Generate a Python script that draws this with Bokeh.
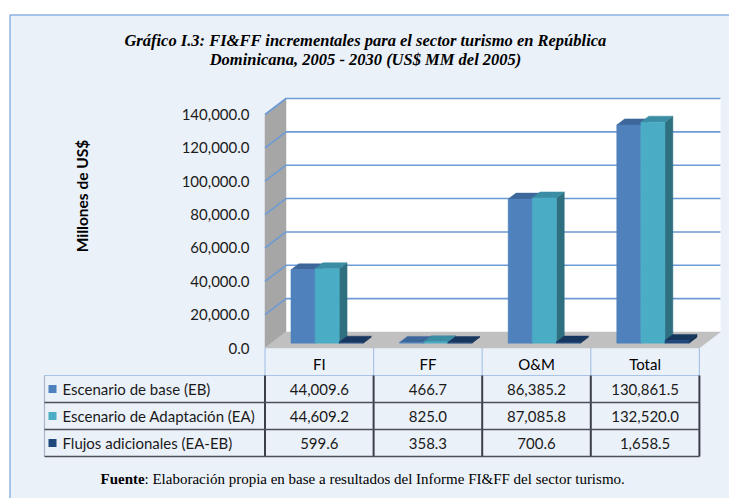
from math import pi
from bokeh.plotting import figure
from bokeh.models import Range1d
from bokeh.core.properties import value
from bokeh.embed import file_html
from bokeh.resources import INLINE

# ---------------- data ----------------
categories = ["FI", "FF", "O&M", "Total"]
eb = [44009.6, 466.7, 86385.2, 130861.5]
ea = [44609.2, 825.0, 87085.8, 132520.0]
flujos = [599.6, 358.3, 700.6, 1658.5]
series_names = ["Escenario de base (EB)", "Escenario de Adaptación (EA)", "Flujos adicionales (EA-EB)"]
y_ticks = [0, 20000, 40000, 60000, 80000, 100000, 120000, 140000]
y_tick_labels = ["0.0", "20,000.0", "40,000.0", "60,000.0", "80,000.0", "100,000.0", "120,000.0", "140,000.0"]
title_lines = ["Gráfico I.3: FI&FF incrementales para el sector turismo en República",
               "Dominicana, 2005 - 2030 (US$ MM del 2005)"]
y_label = "Millones de US$"
note_bold = "Fuente"
note_rest = ": Elaboración propia en base a resultados del Informe FI&FF del sector turismo."

# ---------------- styles / layout ----------------
front_cols = ["#4F81BD", "#4BACC6", "#1F497D"]
top_cols = ["#3D679B", "#3A8DA3", "#18375F"]
side_cols = ["#365E8E", "#2E6F80", "#132E50"]
BG = "#EBF1F9"
GRID = "#6C9BD6"
FONT = value("Lato")
SERIF = value("Liberation Serif")

W, H = 729, 498
X0, Y0 = 0, 0                      # canvas origin in page pixels
FX0, CW = 264.5, 108.6             # front plane left x, category width (px)
FY0, VMAX = 347.5, 140000.0
K = 233.5 / VMAX                   # px per unit value
DX, DY = 21.0, 16.0                # full depth offset (px)

p = figure(width=W, height=H, x_range=Range1d(X0, X0 + W), y_range=Range1d(Y0 + H, Y0),
           output_backend="svg", toolbar_location=None, min_border=0,
           x_axis_location=None, y_axis_location=None)
p.grid.visible = False
p.outline_line_color = None
p.background_fill_color = "white"
p.border_fill_color = "white"

p.extra_x_ranges = {"cat": Range1d((X0 - FX0) / CW, (X0 + W - FX0) / CW)}
p.extra_y_ranges = {"val": Range1d((FY0 - (Y0 + H)) / K, (FY0 - Y0) / K)}


def P(c, v, t):
    return c + t * DX / CW, v + t * DY / K


def poly(pts):
    return [q[0] for q in pts], [q[1] for q in pts]


# panel
p.quad(left=9.5, right=800, top=14.5, bottom=600, fill_color=BG, line_color="#8DB3E2", line_width=1.5)

# walls and floor
ncat = len(categories)
wall_xs, wall_ys, wall_c = [], [], []
for pts, col in [
    ([P(0, 0, 1), P(ncat, 0, 1), P(ncat, VMAX, 1), P(0, VMAX, 1)], "white"),
    ([P(0, 0, 0), P(0, VMAX, 0), P(0, VMAX, 1), P(0, 0, 1)], "#A6A6A6"),
    ([P(0, 0, 0), P(ncat, 0, 0), P(ncat, 0, 1), P(0, 0, 1)], "#C0C0C0"),
]:
    xs, ys = poly(pts)
    wall_xs.append(xs); wall_ys.append(ys); wall_c.append(col)
p.patches(wall_xs, wall_ys, fill_color=wall_c, line_color=wall_c, line_width=0.5,
          x_range_name="cat", y_range_name="val")

# gridlines
gxs, gys = [], []
for v in y_ticks[1:]:
    xs, ys = poly([P(0, v, 0), P(0, v, 1), P(ncat, v, 1)])
    gxs.append(xs); gys.append(ys)
p.multi_line(gxs, gys, line_color=GRID, line_width=1.6, x_range_name="cat", y_range_name="val")

# bars
T0, T1 = 0.3, 0.675
OFF, BW = 0.181, 0.222
bxs, bys, bc = [], [], []
for i in range(ncat):
    for j, vals in enumerate([eb, ea, flujos]):
        v = vals[i]
        c0 = i + OFF + j * BW
        c1 = c0 + BW
        faces = [
            ([P(c1, 0, T0), P(c1, 0, T1), P(c1, v, T1), P(c1, v, T0)], side_cols[j]),
            ([P(c0, v, T0), P(c1, v, T0), P(c1, v, T1), P(c0, v, T1)], top_cols[j]),
            ([P(c0, 0, T0), P(c1, 0, T0), P(c1, v, T0), P(c0, v, T0)], front_cols[j]),
        ]
        for pts, col in faces:
            xs, ys = poly(pts)
            bxs.append(xs); bys.append(ys); bc.append(col)
p.patches(bxs, bys, fill_color=bc, line_color=bc, line_width=0.5,
          x_range_name="cat", y_range_name="val")

# y tick labels
p.text(x=[249] * len(y_ticks), y=y_ticks, text=y_tick_labels, y_range_name="val",
       text_align="right", text_baseline="middle", text_font=FONT,
       text_font_size="15px", text_color="#1A1A1A")

# y axis title
p.text(x=[81], y=[195.5], text=[y_label], angle=pi / 2, text_align="center",
       text_baseline="middle", text_font=FONT, text_font_size="15.5px",
       text_font_style="bold", text_color="black")

# title
p.text(x=[365, 365], y=[40, 59], text=title_lines, text_align="center", text_baseline="middle",
       text_font=SERIF, text_font_size="16.5px", text_font_style="bold italic", text_color="black")

# ---------------- table ----------------
TL, HDR_B = 44, 375
row_y = [388.5, 415.5, 442.5]
row_lines = [402, 429, 456]
# header separators (light)
p.segment(x0=list(range(ncat + 1)), y0=[FY0] * (ncat + 1), x1=list(range(ncat + 1)),
          y1=[HDR_B] * (ncat + 1), x_range_name="cat", line_color="#A9C4E8", line_width=1.2)
# header bottom line
p.segment(x0=[TL], y0=[HDR_B], x1=[FX0 + ncat * CW], y1=[HDR_B], line_color="#A9C4E8", line_width=1.2)
# data vertical lines (dark)
p.segment(x0=list(range(ncat + 1)), y0=[HDR_B] * (ncat + 1), x1=list(range(ncat + 1)),
          y1=[row_lines[-1]] * (ncat + 1), x_range_name="cat", line_color="#3A3F48", line_width=2)
p.segment(x0=[TL], y0=[HDR_B], x1=[TL], y1=[row_lines[-1]], line_color="#A9B4C4", line_width=1.2)
p.segment(x0=[TL] * 3, y0=row_lines, x1=[FX0 + ncat * CW] * 3, y1=row_lines,
          line_color="#4A4F58", line_width=1.5)

# category labels
p.text(x=[i + 0.5 for i in range(ncat)], y=[363] * ncat, text=categories, x_range_name="cat",
       text_align="center", text_baseline="middle", text_font=FONT, text_font_size="15px",
       text_color="black")

# legend keys & row labels
p.rect(x=[52] * 3, y=row_y, width=8, height=8, fill_color=front_cols, line_color=None)
p.text(x=[62] * 3, y=row_y, text=series_names, text_align="left", text_baseline="middle",
       text_font=FONT, text_font_size="15px", text_color="#1A1A1A")

# values
for r, vals in enumerate([eb, ea, flujos]):
    p.text(x=[i + 0.5 for i in range(ncat)], y=[row_y[r]] * ncat,
           text=[f"{v:,.1f}" for v in vals], x_range_name="cat",
           text_align="center", text_baseline="middle", text_font=FONT,
           text_font_size="15px", text_color="#1A1A1A")

# source note
p.text(x=[100], y=[478], text=[note_bold], text_align="left", text_baseline="middle",
       text_font=SERIF, text_font_size="15px", text_font_style="bold", text_color="black")
p.text(x=[144], y=[478], text=[note_rest], text_align="left", text_baseline="middle",
       text_font=SERIF, text_font_size="15px", text_color="black")

open("out.html", "w").write(file_html(p, INLINE))
